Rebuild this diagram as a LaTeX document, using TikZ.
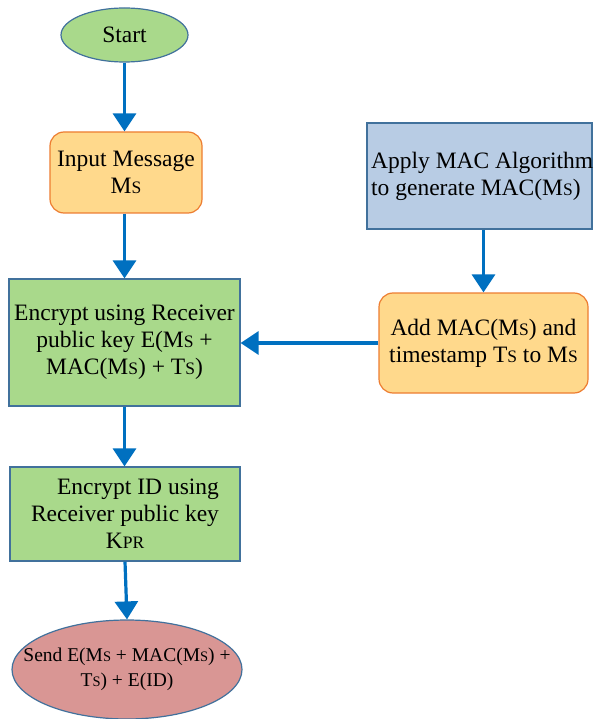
\documentclass[tikz,border=0pt]{standalone}
\usepackage{fontspec}
\setmainfont{Liberation Serif}
\usetikzlibrary{shapes.geometric,arrows.meta}
\definecolor{gfill}{HTML}{A9D98B}
\definecolor{ofill}{HTML}{FFD98C}
\definecolor{bfill}{HTML}{B8CCE4}
\definecolor{rfill}{HTML}{D99694}
\definecolor{bline}{HTML}{41719C}
\definecolor{oline}{HTML}{ED7D31}
\definecolor{arrowc}{HTML}{0070C0}
\newcommand\ssc[1]{{\fontsize{17.5}{17.5}\selectfont #1}}
\newcommand\ssd[1]{{\fontsize{14.5}{14.5}\selectfont #1}}
\tikzset{
  txt/.style={font=\fontsize{23.5}{27}\selectfont, inner sep=0pt, align=center},
  greenbox/.style={txt, draw=bline, line width=1.2pt, fill=gfill, rectangle},
  orangebox/.style={txt, draw=oline, line width=1.2pt, fill=ofill, rectangle, rounded corners=14pt},
  bluebox/.style={txt, draw=bline, line width=1.2pt, fill=bfill, rectangle},
  oval/.style={txt, draw=bline, line width=1.2pt, ellipse},
  arr/.style={draw=arrowc, line width=3.2pt, -{Triangle[width=23pt,length=18pt]}}
}
\begin{document}
\begin{tikzpicture}[x=1pt,y=-1pt]
\useasboundingbox (0,0) rectangle (593,719);
\node[oval, fill=gfill, minimum width=127pt, minimum height=54pt] (start) at (124.5,35) {Start};
\node[orangebox, minimum width=152pt, minimum height=81pt] (input) at (126,172.5) {Input Message\\M\ssc{S}};
\node[greenbox, minimum width=231pt, minimum height=127pt] (enc) at (124.5,342.5) {Encrypt using Receiver\\public key E(M\ssc{S} +\\MAC(M\ssc{S}) + T\ssc{S})};
\node[greenbox, minimum width=230pt, minimum height=94pt] (encid) at (125,514) {\hspace*{26pt}Encrypt ID using\\Receiver public key\\K\ssc{PR}};
\node[oval, fill=rfill, minimum width=230pt, minimum height=99pt] (send) at (127,669.5) {};
\node[txt, font=\fontsize{19.5}{25}\selectfont] (sendt) at (send.center) {Send E(M\ssd{S} + MAC(M\ssd{S}) +\\T\ssd{S}) + E(ID)};
\node[bluebox, minimum width=225pt, minimum height=106pt] (apply) at (479.5,176) {};
\node[txt, align=left, anchor=west] (applyt) at (371,176.5) {Apply MAC Algorithm\\to generate MAC(M\ssc{S})};
\node[orangebox, minimum width=209pt, minimum height=100pt] (add) at (483.5,343) {Add MAC(M\ssc{S}) and\\timestamp T\ssc{S} to M\ssc{S}};
\draw[arr] (start.south) -- (start.south |- input.north);
\draw[arr] (input.south -| enc.north) -- (enc.north);
\draw[arr] (enc.south) -- (encid.north -| enc.south);
\draw[arr] (encid.south) -- (send.north);
\draw[arr] (apply.south -| add.north) -- (add.north);
\draw[arr] (add.west) -- (add.west -| enc.east);
\end{tikzpicture}
\end{document}
